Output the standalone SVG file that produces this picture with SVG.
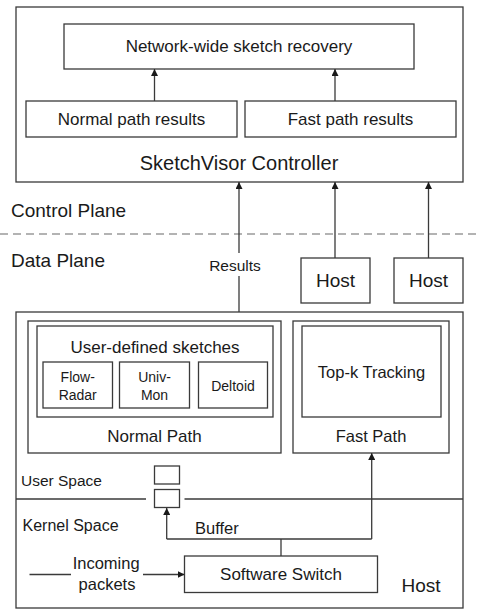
<svg xmlns="http://www.w3.org/2000/svg" width="480" height="610" viewBox="0 0 480 610">
  <style>
    .box { fill: #ffffff; stroke: #3a3a3a; stroke-width: 1.3; }
    .ln { fill: none; stroke: #3a3a3a; stroke-width: 1.3; }
    .arr { fill: none; stroke: #3a3a3a; stroke-width: 1.3; marker-end: url(#head); }
    text { font-family: "Liberation Sans", Arial, sans-serif; fill: #1a1a1a; }
    .c { text-anchor: middle; }
  </style>
  <defs>
    <marker id="head" viewBox="0 0 10 10" refX="10" refY="5" markerWidth="7" markerHeight="7" markerUnits="userSpaceOnUse" orient="auto">
      <path d="M0,0 L10,5 L0,10 Z" fill="#1a1a1a"/>
    </marker>
  </defs>
  <rect width="480" height="610" fill="#ffffff"/>

  <!-- Controller -->
  <g id="controller">
    <rect class="box" x="16" y="7" width="447" height="175"/>
    <text class="c" x="239" y="170" font-size="20">SketchVisor Controller</text>
  </g>
  <g id="recovery">
    <rect class="box" x="64" y="24" width="350" height="45"/>
    <text class="c" x="239" y="52" font-size="17">Network-wide sketch recovery</text>
  </g>
  <g id="normal-results">
    <rect class="box" x="26" y="101" width="211" height="36"/>
    <text class="c" x="131.5" y="125" font-size="17">Normal path results</text>
  </g>
  <g id="fast-results">
    <rect class="box" x="245" y="101" width="211" height="36"/>
    <text class="c" x="350.5" y="125" font-size="17">Fast path results</text>
  </g>

  <!-- Plane labels and divider -->
  <g id="planes">
    <text x="11" y="217" font-size="19">Control Plane</text>
    <line x1="0" y1="234" x2="480" y2="234" stroke="#9a9a9a" stroke-width="1.3" stroke-dasharray="8,5"/>
    <text x="11" y="267" font-size="19">Data Plane</text>
  </g>

  <!-- Remote hosts -->
  <g id="host-1">
    <rect class="box" x="301" y="258" width="69" height="45"/>
    <text class="c" x="335.5" y="287" font-size="19">Host</text>
  </g>
  <g id="host-2">
    <rect class="box" x="394" y="258" width="69" height="45"/>
    <text class="c" x="428.5" y="287" font-size="19">Host</text>
  </g>

  <!-- Local host -->
  <g id="host-local">
    <rect class="box" x="16" y="312" width="447" height="296"/>
    <text x="401.5" y="592" font-size="19">Host</text>
  </g>
  <g id="normal-path">
    <rect class="box" x="28" y="321" width="253" height="132"/>
    <text class="c" x="154.5" y="442" font-size="17">Normal Path</text>
  </g>
  <g id="user-sketches">
    <rect class="box" x="37" y="326" width="236" height="91"/>
    <text class="c" x="155" y="353" font-size="17">User-defined sketches</text>
  </g>
  <g id="flowradar">
    <rect class="box" x="43" y="362" width="69.5" height="46"/>
    <text class="c" x="77.7" y="382" font-size="14">Flow-</text>
    <text class="c" x="77.7" y="400" font-size="14">Radar</text>
  </g>
  <g id="univmon">
    <rect class="box" x="119.5" y="362" width="70" height="46"/>
    <text class="c" x="154.5" y="382" font-size="14">Univ-</text>
    <text class="c" x="154.5" y="400" font-size="14">Mon</text>
  </g>
  <g id="deltoid">
    <rect class="box" x="198.5" y="362" width="69" height="46"/>
    <text class="c" x="233" y="391" font-size="14">Deltoid</text>
  </g>
  <g id="fast-path">
    <rect class="box" x="293" y="321" width="156" height="132"/>
    <text class="c" x="371" y="442" font-size="16.5">Fast Path</text>
  </g>
  <g id="topk">
    <rect class="box" x="302" y="326" width="139" height="91"/>
    <text class="c" x="371.5" y="378" font-size="16.5">Top-k Tracking</text>
  </g>
  <g id="spaces">
    <text x="21" y="486" font-size="15.5">User Space</text>
    <text x="22.5" y="531" font-size="16">Kernel Space</text>
    <line class="ln" x1="16" y1="499" x2="146" y2="499"/>
    <line class="ln" x1="184.5" y1="499" x2="463" y2="499"/>
  </g>
  <g id="buffer-slot-1">
    <rect class="box" x="154.5" y="466" width="25" height="18"/>
  </g>
  <g id="buffer-slot-2">
    <rect class="box" x="154.5" y="489.5" width="25" height="18"/>
  </g>
  <g id="software-switch">
    <rect class="box" x="184.5" y="556" width="193" height="36.5"/>
    <text class="c" x="281" y="580" font-size="17">Software Switch</text>
  </g>

  <!-- Connectors -->
  <g id="connectors">
    <line class="arr" x1="154.5" y1="101" x2="154.5" y2="69"/>
    <line class="arr" x1="335" y1="101" x2="335" y2="69"/>
    <line class="ln" x1="239" y1="312" x2="239" y2="276"/>
    <line class="arr" x1="239" y1="253" x2="239" y2="182"/>
    <text class="c" x="235" y="271" font-size="15.5">Results</text>
    <line class="arr" x1="335" y1="258" x2="335" y2="182"/>
    <line class="arr" x1="428.5" y1="258" x2="428.5" y2="182"/>
    <line class="ln" x1="281" y1="556" x2="281" y2="539"/>
    <polyline class="arr" points="166.7,539 166.7,508"/>
    <line class="ln" x1="166.7" y1="539" x2="371.7" y2="539"/>
    <line class="arr" x1="371.7" y1="539" x2="371.7" y2="453"/>
    <text x="195" y="534" font-size="16.5">Buffer</text>
    <line class="ln" x1="29.5" y1="574.5" x2="71" y2="574.5"/>
    <line class="arr" x1="143" y1="574.5" x2="184.5" y2="574.5"/>
    <text x="72.7" y="568.5" font-size="16.5">Incoming</text>
    <text class="c" x="107" y="590" font-size="16.5">packets</text>
  </g>
</svg>
